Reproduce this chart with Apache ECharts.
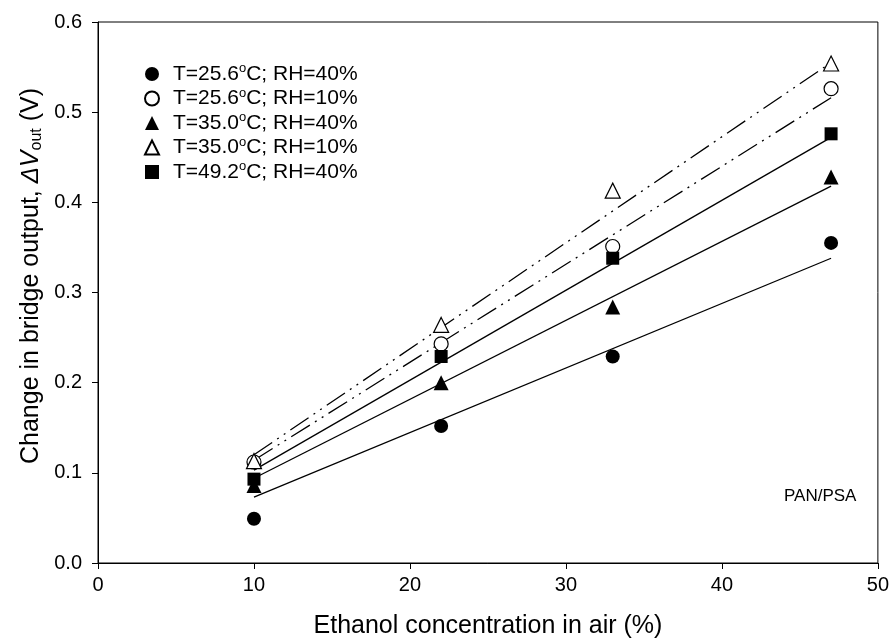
<!DOCTYPE html>
<html>
<head>
<meta charset="utf-8">
<script src="https://cdn.jsdelivr.net/npm/echarts@6/dist/echarts.min.js"></script>
<style>html,body{margin:0;padding:0;background:#fff;}#c{width:892px;height:644px;}</style>
</head>
<body>
<div id="c"></div>
<script>
const xValues = [10, 22, 33, 47];
const seriesNames = ['T=25.6°C; RH=40%', 'T=25.6°C; RH=10%', 'T=35.0°C; RH=40%', 'T=35.0°C; RH=10%', 'T=49.2°C; RH=40%'];
const s1 = [0.049, 0.152, 0.229, 0.355]; // filled circle
const s2 = [0.112, 0.243, 0.351, 0.526]; // open circle
const s3 = [0.086, 0.200, 0.284, 0.428]; // filled triangle
const s4 = [0.113, 0.264, 0.413, 0.554]; // open triangle
const s5 = [0.093, 0.229, 0.338, 0.476]; // filled square
const fitX = [10, 47];
const fit1 = [0.073, 0.338];
const fit2 = [0.114, 0.516];
const fit3 = [0.094, 0.418];
const fit4 = [0.120, 0.555];
const fit5 = [0.103, 0.472];
const xTicks = [0, 10, 20, 30, 40, 50];
const yTicks = [0, 0.1, 0.2, 0.3, 0.4, 0.5, 0.6];

const FONT = 'Liberation Sans, Arial, sans-serif';
const pts = v => xValues.map((x, i) => [x, v[i]]);
const fit = v => fitX.map((x, i) => [x, v[i]]);
const dashDot = [22, 6, 2, 6, 2, 6];

const markers = [
  {data: s1, symbol: 'circle', size: 14, fill: '#000'},
  {data: s2, symbol: 'circle', size: 14, fill: '#fff'},
  {data: s3, symbol: 'triangle', size: 15, fill: '#000'},
  {data: s4, symbol: 'triangle', size: 15, fill: '#fff'},
  {data: s5, symbol: 'rect', size: 13, fill: '#000'}
];
const fits = [
  {data: fit1, type: 'solid'},
  {data: fit2, type: dashDot},
  {data: fit3, type: 'solid'},
  {data: fit4, type: dashDot},
  {data: fit5, type: 'solid'}
];

const series = [];
fits.forEach(f => series.push({
  type: 'line', data: fit(f.data), symbol: 'none', silent: true, z: 1,
  lineStyle: {color: '#000', width: 1.3, type: f.type}
}));
markers.forEach((m, i) => series.push({
  type: 'scatter', name: seriesNames[i], data: pts(m.data), symbol: m.symbol, symbolSize: m.size, z: 3,
  itemStyle: {color: m.fill, borderColor: '#000', borderWidth: m.fill === '#fff' ? 1.2 : 0, opacity: 1}
}));

const chart = echarts.init(document.getElementById('c'), null, {renderer: 'canvas'});
chart.setOption({
  backgroundColor: '#fff',
  animation: false,
  grid: {left: 98, right: 14, top: 22, bottom: 81, show: true, borderColor: '#000', borderWidth: 1, backgroundColor: 'transparent'},
  legend: {
    orient: 'vertical', left: 139, top: 57, itemGap: 2, itemWidth: 14, itemHeight: 14,
    data: seriesNames,
    formatter: n => n.replace('°', '{sup|o}'),
    textStyle: {color: '#000', fontFamily: FONT, fontSize: 21, padding: [0, 0, 0, 9],
      rich: {sup: {fontSize: 13, fontFamily: FONT, color: '#000', padding: [0, 0, 11, 0]}}}
  },
  xAxis: {
    type: 'value', min: 0, max: 50, interval: 10,
    name: 'Ethanol concentration in air (%)', nameLocation: 'middle', nameGap: 51,
    nameTextStyle: {color: '#000', fontFamily: FONT, fontSize: 25},
    axisLine: {show: true, lineStyle: {color: '#000', width: 1}},
    axisTick: {show: true, inside: false, length: 6, lineStyle: {color: '#000'}},
    axisLabel: {color: '#000', fontFamily: FONT, fontSize: 20, margin: 12,
      formatter: v => xTicks.includes(v) ? String(v) : ''},
    splitLine: {show: false}
  },
  yAxis: {
    type: 'value', min: 0, max: 0.6, interval: 0.1,
    axisLine: {show: true, lineStyle: {color: '#000', width: 1}},
    axisTick: {show: true, inside: false, length: 6, lineStyle: {color: '#000'}},
    axisLabel: {color: '#000', fontFamily: FONT, fontSize: 20, margin: 16,
      formatter: v => v.toFixed(1)},
    splitLine: {show: false}
  },
  graphic: [{
    type: 'text', x: 31, y: 276, rotation: Math.PI / 2,
    style: {
      text: 'Change in bridge output, {d|Δ}{v|V}{sub|out} (V)',
      align: 'center', verticalAlign: 'middle',
      fill: '#000', font: '25px ' + FONT,
      rich: {
        d: {fontSize: 24, fontFamily: FONT, fill: '#000', fontStyle: 'italic'},
        v: {fontSize: 25, fontFamily: FONT, fill: '#000', fontStyle: 'italic'},
        sub: {fontSize: 16, fontFamily: FONT, fill: '#000', padding: [12, 0, 0, 0]}
      }
    }
  }, {
    type: 'text', left: 784, top: 488,
    style: {text: 'PAN/PSA', fill: '#000', font: '17px ' + FONT}
  }],
  series: series
});
</script>
</body>
</html>
